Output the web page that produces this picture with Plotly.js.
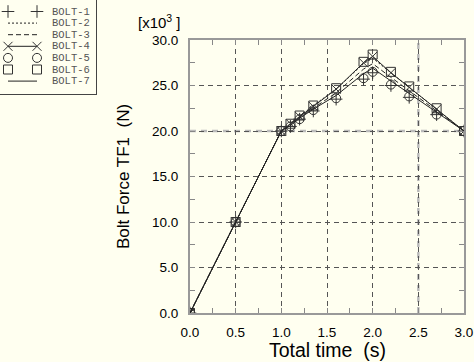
<!DOCTYPE html>
<html>
<head>
<meta charset="utf-8">
<script src="https://cdn.plot.ly/plotly-3.0.1.min.js"></script>
<style>html,body{margin:0;padding:0;background:#fffff0;}</style>
</head>
<body>
<div id="chart" style="width:474px;height:362px;"></div>
<script>
// Total time (s)
var time = [0, 0.5, 1.0, 1.1, 1.2, 1.35, 1.6, 1.9, 2.0, 2.2, 2.4, 2.7, 3.0];
// Bolt force TF1 in units of 10^3 N
var bolt1 = [0, 10, 20, 20.5, 21.3, 22.2, 23.5, 25.7, 26.4, 25.0, 23.7, 21.8, 20];
var bolt2 = [0, 10, 20, 20.8, 21.6, 22.8, 24.6, 27.4, 28.0, 26.4, 24.9, 22.5, 20];
var bolt3 = [0, 10, 20, 20.7, 21.5, 22.5, 24.2, 26.8, 27.4, 25.9, 24.4, 22.2, 20];
var bolt4 = [0, 10, 20, 20.8, 21.6, 22.7, 24.6, 27.5, 28.2, 26.4, 24.8, 22.4, 20];
var bolt5 = [0, 10, 20, 20.5, 21.3, 22.3, 23.6, 25.8, 26.5, 25.1, 23.8, 21.8, 20];
var bolt6 = [0, 10, 20, 20.8, 21.7, 22.8, 24.7, 27.6, 28.4, 26.5, 24.9, 22.5, 20];
var bolt7 = [0, 10, 20, 20.6, 21.4, 22.4, 23.9, 26.3, 26.9, 25.5, 24.1, 22.0, 20];
var names = ['BOLT-1','BOLT-2','BOLT-3','BOLT-4','BOLT-5','BOLT-6','BOLT-7'];
var series = [bolt1, bolt2, bolt3, bolt4, bolt5, bolt6, bolt7];
var yTickVals = [0, 5, 10, 15, 20, 25, 30];
var yTickText = ['0.0','5.0','10.0','15.0','20.0','25.0','30.0'];
var xTickVals = [0, 0.5, 1.0, 1.5, 2.0, 2.5, 3.0];
var xTickText = ['0.0','0.5','1.0','1.5','2.0','2.5','3.0'];
var xTitle = 'Total time  (s)';
var yTitle = 'Bolt Force TF1  (N)';

var W = 474, H = 362;
var styles = [
  {mode:'markers', dash:'solid', symbol:'cross-thin-open'},
  {mode:'lines', dash:'2px,2px', symbol:null},
  {mode:'lines', dash:'5px,3px', symbol:null},
  {mode:'lines+markers', dash:'solid', symbol:'x-thin-open'},
  {mode:'markers', dash:'solid', symbol:'circle-open'},
  {mode:'markers', dash:'solid', symbol:'square-open'},
  {mode:'lines', dash:'solid', symbol:null}
];

function styled(t, st) {
  t.mode = st.mode;
  t.line = {color:'#222', width:1, dash: st.dash};
  if (st.symbol) t.marker = {symbol: st.symbol, size: 9, color:'#333', line:{color:'#333', width:1}};
  return t;
}

var traces = [];
series.forEach(function(s, i){
  traces.push(styled({x: time, y: s, name: names[i], type:'scatter', showlegend:false, xaxis:'x', yaxis:'y'}, styles[i]));
});

// custom legend drawn on its own small axes (top-left box)
var legendAnn = [];
names.forEach(function(n, i){
  var row = 11.5 + i * 11.6;
  traces.push(styled({x:[8, 37], y:[row, row], type:'scatter', showlegend:false, xaxis:'x2', yaxis:'y2'}, styles[i]));
  legendAnn.push({xref:'x2', yref:'y2', x:50, y:row, xanchor:'left', yanchor:'middle', text:n, showarrow:false,
    font:{family:'Liberation Mono, DejaVu Sans Mono, monospace', size:10.5, color:'#555'}});
});

var gridStyle = {showgrid:true, gridcolor:'#555', griddash:'5px,4px', gridwidth:1};

var layout = {
  width: W, height: H,
  paper_bgcolor: '#fffff0', plot_bgcolor: '#fffff0',
  margin: {l:0, r:0, t:0, b:0},
  font: {family:'Liberation Sans, Arial, sans-serif', color:'#000'},
  showlegend: false,
  xaxis: Object.assign({
    domain:[190/W, 464/W], anchor:'y',
    range:[0,3], tickvals:xTickVals, ticktext:xTickText,
    zeroline:false, showline:true, linecolor:'#999', linewidth:2, mirror:'ticks',
    ticks:'inside', ticklen:0, tickfont:{size:13.5}, ticklabelstandoff:6,
    minor:{dtick:0.25, tick0:0, ticks:'inside', ticklen:5, tickcolor:'#888', tickwidth:1, showgrid:false},
    automargin:false
  }, gridStyle),
  yaxis: Object.assign({
    domain:[(H-313)/H, (H-40)/H], anchor:'x',
    range:[0,30], tickvals:yTickVals, ticktext:yTickText,
    zeroline:false, showline:true, linecolor:'#999', linewidth:2, mirror:'ticks',
    ticks:'inside', ticklen:0, tickfont:{size:13.5}, ticklabelstandoff:7,
    minor:{dtick:2.5, tick0:0, ticks:'inside', ticklen:5, tickcolor:'#888', tickwidth:1, showgrid:false},
    title:{text:yTitle, font:{size:17}, standoff:18}, automargin:false
  }, gridStyle),
  xaxis2: {domain:[0, 96/W], anchor:'y2', range:[0,96], showgrid:false, zeroline:false,
    showticklabels:false, ticks:'', showline:true, mirror:true, linecolor:'#444', linewidth:1, fixedrange:true},
  yaxis2: {domain:[1-94/H, 1], anchor:'x2', range:[94,0], showgrid:false, zeroline:false,
    showticklabels:false, ticks:'', showline:true, mirror:true, linecolor:'#444', linewidth:1, fixedrange:true},
  shapes: [
    {type:'line', xref:'x', yref:'y', x0:0, x1:3, y0:20, y1:20, layer:'below', line:{color:'#bbb', width:2.5, dash:'6px,5px'}},
    {type:'line', xref:'x', yref:'y', x0:2.5, x1:2.5, y0:0, y1:30, layer:'below', line:{color:'#bbb', width:2.5, dash:'6px,5px'}}
  ],
  annotations: legendAnn.concat([
    {xref:'paper', yref:'paper', x:159/W, y:1-21/H, xanchor:'center', yanchor:'middle',
     text:'[x10<sup>3</sup> ]', showarrow:false, font:{size:15}},
    {xref:'paper', yref:'paper', x:327/W, y:0, xanchor:'center', yanchor:'bottom',
     text:xTitle, showarrow:false, font:{size:19.5}, borderpad:0}
  ])
};

Plotly.newPlot('chart', traces, layout, {displayModeBar:false, staticPlot:true});
</script>
</body>
</html>
